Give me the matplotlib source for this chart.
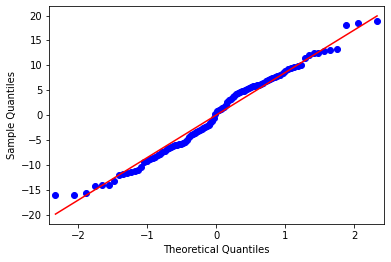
from statistics import NormalDist
import numpy as np
import matplotlib
matplotlib.use("Agg")
import matplotlib.pyplot as plt

# === Sorted sample values (n = 100) ===
sample_low = [
    -16.0, -16.0, -15.6, -14.1, -14.2, -14.1, -13.3, -12.0, -11.9, -11.6,
    -11.4, -11.2, -11.0, -10.4, -9.5, -9.2, -8.9, -8.6, -8.3, -8.0,
    -7.7, -7.4, -7.1, -6.8, -6.5, -6.3, -6.2, -6.0, -5.9, -5.8,
    -5.7, -5.6, -5.4, -4.9, -4.3, -4.0, -3.8, -3.6, -3.4, -3.2,
    -3.0, -2.8, -2.6, -2.4, -2.2, -2.0, -1.6, -1.2, -0.6, 0.3,
]
sample_high = [
    0.8, 1.0, 1.2, 1.4, 1.7, 2.1, 2.6, 3.0, 3.3, 3.6,
    3.9, 4.2, 4.4, 4.6, 4.8, 4.9, 5.1, 5.3, 5.5, 5.6,
    5.8, 5.9, 6.0, 6.1, 6.3, 6.5, 6.8, 7.0, 7.2, 7.4,
    7.6, 7.8, 8.0, 8.4, 8.8, 9.2, 9.5, 9.7, 9.9, 10.1,
    11.4, 12.0, 12.4, 12.5, 12.8, 13.0, 13.3, 18.2, 18.5, 19.0,
]
sample = np.sort(np.array(sample_low + sample_high))

# === Theoretical normal quantiles, positions i/(n+1) ===
n = len(sample)
theoretical = np.array([NormalDist().inv_cdf(i / (n + 1)) for i in range(1, n + 1)])

# === Standardized reference line: mean + std * q ===
line_y = sample.mean() + sample.std(ddof=1) * theoretical
print(sample.mean(), sample.std(ddof=1))

fig = plt.figure(figsize=(391 / 72, 262 / 72), dpi=72)
ax = fig.add_axes([0.126, 0.145, 0.856, 0.832])
ax.plot(theoretical, sample, marker='o', linestyle='none',
        markerfacecolor='b', markeredgecolor='b')
ax.plot(theoretical, line_y, color='r')
ax.set_xlim(-2.42, 2.43)
ax.set_xlabel("Theoretical Quantiles")
ax.set_ylabel("Sample Quantiles")

fig.savefig("out.png", dpi=72)
